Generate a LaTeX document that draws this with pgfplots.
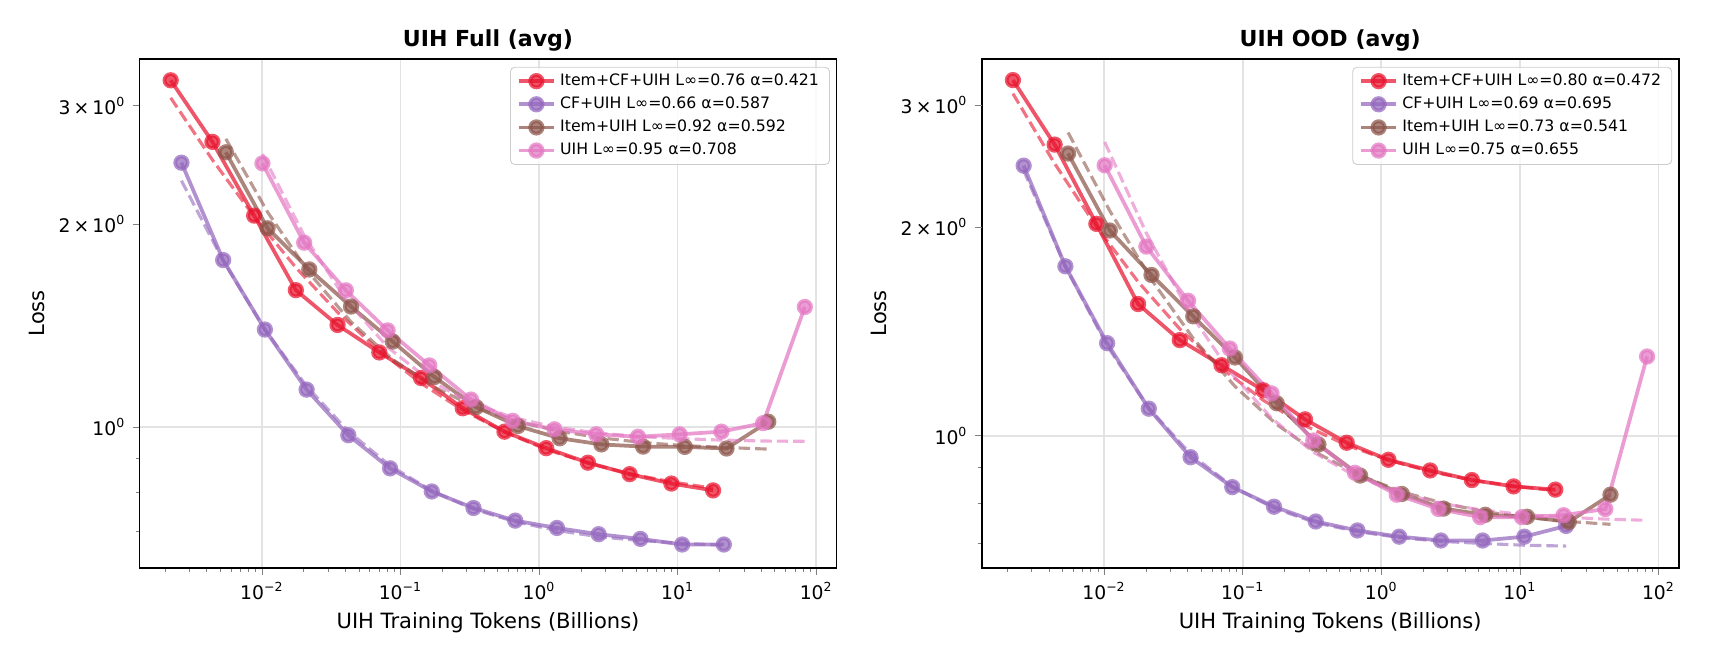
\documentclass[border=0pt]{standalone}
\usepackage{fontspec}
\setmainfont{DejaVu Sans}
\usepackage{pgfplots}
\pgfplotsset{compat=1.18}
\definecolor{cRed}{HTML}{E8142E}
\definecolor{cPur}{HTML}{9467BD}
\definecolor{cBro}{HTML}{8C564B}
\definecolor{cPin}{HTML}{E377C2}
\begin{document}
\begin{tikzpicture}
\useasboundingbox (0pt,0pt) rectangle (823.68pt,317.76pt);
% ---------------- Left: UIH Full ----------------
\begin{axis}[
    at={(66.96pt,45.26pt)}, anchor=south west,
    scale only axis, width=334.56pt, height=244.3pt,
    xmode=log, ymode=log,
    xmin=1.31e-3, xmax=140, ymin=0.619, ymax=3.52,
    title={UIH Full (avg)},
    xtick={0.01,0.1,1,10,100},
    xticklabels={10\textsuperscript{−2},10\textsuperscript{−1},10\textsuperscript{0},10\textsuperscript{1},10\textsuperscript{2}},
    minor xtick={0.002,0.003,0.004,0.005,0.006,0.007,0.008,0.009,0.02,0.03,0.04,0.05,0.06,0.07,0.08,0.09,0.2,0.3,0.4,0.5,0.6,0.7,0.8,0.9,2,3,4,5,6,7,8,9,20,30,40,50,60,70,80,90},
    ytick={1}, yticklabels={10\textsuperscript{0}},
    minor ytick={0.7,0.8,0.9},
    extra y ticks={2,3},
    extra y tick labels={2\,×\,10\textsuperscript{0},3\,×\,10\textsuperscript{0}},
    extra y tick style={grid=none},
    xmajorgrids, ymajorgrids,
    major grid style={draw=black!11, line width=0.8pt},
    tick align=outside, tick pos=left,
    major tick length=3.3pt, minor tick length=1.9pt,
    axis line style={line width=0.9pt},
    tick label style={font=\fontsize{9}{10}\selectfont},
    xlabel={UIH Training Tokens (Billions)}, ylabel={Loss},
    label style={font=\fontsize{10.1}{12}\selectfont},
    xlabel style={at={(axis description cs:0.5,-0.119)}, anchor=base},
    ylabel style={at={(axis description cs:-0.1475,0.5)}, anchor=center},
    title style={font=\bfseries\fontsize{10.6}{12}\selectfont, at={(axis description cs:0.5,1)}, anchor=base},
    legend style={at={(axis description cs:0.9905,0.984)}, anchor=north east,
      draw=black!20, fill=white, fill opacity=0.8, text opacity=1, rounded corners=2pt,
      font=\fontsize{7.55}{9}\selectfont, row sep=0pt, inner xsep=3pt, inner ysep=1.1pt},
    legend cell align=left,
  ]
\addplot[line width=1.8pt, opacity=0.72, mark=*, mark size=3pt, color=cRed] coordinates {(0.0022,3.27) (0.0044,2.65) (0.0088,2.06) (0.0176,1.597) (0.0352,1.418) (0.0704,1.291) (0.1408,1.183) (0.2816,1.067) (0.5632,0.985) (1.1264,0.931) (2.2528,0.886) (4.5056,0.852) (9.0112,0.825) (18.0224,0.806)};
\addlegendentry{Item+CF+UIH L∞=0.76 α=0.421}
\addplot[line width=1.5pt, opacity=0.6, dash pattern=on 5.5pt off 2.4pt, forget plot, no marks, color=cRed] coordinates {(0.0022,3.080) (0.0044,2.492) (0.0088,2.053) (0.0176,1.725) (0.0352,1.481) (0.0704,1.298) (0.1408,1.162) (0.2816,1.060) (0.5632,0.984) (1.1264,0.927) (2.2528,0.885) (4.5056,0.853) (9.0112,0.830) (18.0224,0.812)};
\addplot[line width=1.8pt, opacity=0.72, mark=*, mark size=3pt, color=cPur] coordinates {(0.00263,2.468) (0.00526,1.770) (0.01052,1.396) (0.02104,1.137) (0.04208,0.973) (0.08416,0.869) (0.16832,0.803) (0.33664,0.759) (0.67328,0.727) (1.34656,0.709) (2.69312,0.694) (5.38624,0.683) (10.7725,0.670) (21.545,0.670)};
\addlegendentry{CF+UIH L∞=0.66 α=0.587}
\addplot[line width=1.5pt, opacity=0.6, dash pattern=on 5.5pt off 2.4pt, forget plot, no marks, color=cPur] coordinates {(0.00263,2.321) (0.00526,1.766) (0.01052,1.396) (0.02104,1.150) (0.04208,0.986) (0.08416,0.877) (0.16832,0.805) (0.33664,0.756) (0.67328,0.724) (1.34656,0.703) (2.69312,0.688) (5.38624,0.679) (10.7725,0.673) (21.545,0.668)};
\addplot[line width=1.8pt, opacity=0.72, mark=*, mark size=3pt, color=cBro] coordinates {(0.0055,2.557) (0.011,1.973) (0.022,1.714) (0.044,1.510) (0.088,1.340) (0.176,1.187) (0.352,1.071) (0.704,1.004) (1.408,0.963) (2.816,0.943) (5.632,0.936) (11.264,0.935) (22.528,0.930) (45.056,1.019)};
\addlegendentry{Item+UIH L∞=0.92 α=0.592}
\addplot[line width=1.5pt, opacity=0.6, dash pattern=on 5.5pt off 2.4pt, forget plot, no marks, color=cBro] coordinates {(0.0055,2.677) (0.011,2.085) (0.022,1.693) (0.044,1.433) (0.088,1.260) (0.176,1.146) (0.352,1.070) (0.704,1.019) (1.408,0.986) (2.816,0.964) (5.632,0.949) (11.264,0.939) (22.528,0.933) (45.056,0.928)};
\addplot[line width=1.8pt, opacity=0.72, mark=*, mark size=3pt, color=cPin] coordinates {(0.0101,2.462) (0.0202,1.878) (0.0404,1.596) (0.0808,1.392) (0.1616,1.235) (0.3232,1.099) (0.6464,1.022) (1.2928,0.993) (2.5856,0.976) (5.1712,0.968) (10.3424,0.976) (20.6848,0.985) (41.3696,1.014) (82.739,1.508)};
\addlegendentry{UIH L∞=0.95 α=0.708}
\addplot[line width=1.5pt, opacity=0.6, dash pattern=on 5.5pt off 2.4pt, forget plot, no marks, color=cPin] coordinates {(0.0101,2.542) (0.0202,1.924) (0.0404,1.547) (0.0808,1.315) (0.1616,1.174) (0.3232,1.087) (0.6464,1.034) (1.2928,1.001) (2.5856,0.981) (5.1712,0.969) (10.3424,0.962) (20.6848,0.957) (41.3696,0.954) (82.739,0.953)};
\end{axis}
% ---------------- Right: UIH OOD ----------------
\begin{axis}[
    at={(471.22pt,45.26pt)}, anchor=south west,
    scale only axis, width=334.56pt, height=244.3pt,
    xmode=log, ymode=log,
    xmin=1.31e-3, xmax=140, ymin=0.645, ymax=3.50,
    title={UIH OOD (avg)},
    xtick={0.01,0.1,1,10,100},
    xticklabels={10\textsuperscript{−2},10\textsuperscript{−1},10\textsuperscript{0},10\textsuperscript{1},10\textsuperscript{2}},
    minor xtick={0.002,0.003,0.004,0.005,0.006,0.007,0.008,0.009,0.02,0.03,0.04,0.05,0.06,0.07,0.08,0.09,0.2,0.3,0.4,0.5,0.6,0.7,0.8,0.9,2,3,4,5,6,7,8,9,20,30,40,50,60,70,80,90},
    ytick={1}, yticklabels={10\textsuperscript{0}},
    minor ytick={0.7,0.8,0.9},
    extra y ticks={2,3},
    extra y tick labels={2\,×\,10\textsuperscript{0},3\,×\,10\textsuperscript{0}},
    extra y tick style={grid=none},
    xmajorgrids, ymajorgrids,
    major grid style={draw=black!11, line width=0.8pt},
    tick align=outside, tick pos=left,
    major tick length=3.3pt, minor tick length=1.9pt,
    axis line style={line width=0.9pt},
    tick label style={font=\fontsize{9}{10}\selectfont},
    xlabel={UIH Training Tokens (Billions)}, ylabel={Loss},
    label style={font=\fontsize{10.1}{12}\selectfont},
    xlabel style={at={(axis description cs:0.5,-0.119)}, anchor=base},
    ylabel style={at={(axis description cs:-0.1475,0.5)}, anchor=center},
    title style={font=\bfseries\fontsize{10.6}{12}\selectfont, at={(axis description cs:0.5,1)}, anchor=base},
    legend style={at={(axis description cs:0.9905,0.984)}, anchor=north east,
      draw=black!20, fill=white, fill opacity=0.8, text opacity=1, rounded corners=2pt,
      font=\fontsize{7.55}{9}\selectfont, row sep=0pt, inner xsep=3pt, inner ysep=1.1pt},
    legend cell align=left,
  ]
\addplot[line width=1.8pt, opacity=0.72, mark=*, mark size=3pt, color=cRed] coordinates {(0.0022,3.26) (0.0044,2.631) (0.0088,2.022) (0.0176,1.549) (0.0352,1.374) (0.0704,1.264) (0.1408,1.163) (0.2816,1.056) (0.5632,0.977) (1.1264,0.923) (2.2528,0.891) (4.5056,0.863) (9.0112,0.845) (18.0224,0.836)};
\addlegendentry{Item+CF+UIH L∞=0.80 α=0.472}
\addplot[line width=1.5pt, opacity=0.6, dash pattern=on 5.5pt off 2.4pt, forget plot, no marks, color=cRed] coordinates {(0.0022,3.117) (0.0044,2.470) (0.0088,2.004) (0.0176,1.668) (0.0352,1.426) (0.0704,1.251) (0.1408,1.125) (0.2816,1.034) (0.5632,0.969) (1.1264,0.922) (2.2528,0.888) (4.5056,0.863) (9.0112,0.846) (18.0224,0.833)};
\addplot[line width=1.8pt, opacity=0.72, mark=*, mark size=3pt, color=cPur] coordinates {(0.00263,2.453) (0.00526,1.756) (0.01052,1.360) (0.02104,1.094) (0.04208,0.931) (0.08416,0.843) (0.16832,0.790) (0.33664,0.752) (0.67328,0.730) (1.34656,0.715) (2.69312,0.706) (5.38624,0.706) (10.7725,0.715) (21.545,0.741)};
\addlegendentry{CF+UIH L∞=0.69 α=0.695}
\addplot[line width=1.5pt, opacity=0.6, dash pattern=on 5.5pt off 2.4pt, forget plot, no marks, color=cPur] coordinates {(0.00263,2.415) (0.00526,1.755) (0.01052,1.348) (0.02104,1.096) (0.04208,0.941) (0.08416,0.845) (0.16832,0.786) (0.33664,0.749) (0.67328,0.727) (1.34656,0.713) (2.69312,0.704) (5.38624,0.699) (10.7725,0.695) (21.545,0.693)};
\addplot[line width=1.8pt, opacity=0.72, mark=*, mark size=3pt, color=cBro] coordinates {(0.0055,2.554) (0.011,1.978) (0.022,1.706) (0.044,1.487) (0.088,1.297) (0.176,1.114) (0.352,0.971) (0.704,0.876) (1.408,0.824) (2.816,0.785) (5.632,0.769) (11.264,0.764) (22.528,0.751) (45.056,0.822)};
\addlegendentry{Item+UIH L∞=0.73 α=0.541}
\addplot[line width=1.5pt, opacity=0.6, dash pattern=on 5.5pt off 2.4pt, forget plot, no marks, color=cBro] coordinates {(0.0055,2.739) (0.011,2.111) (0.022,1.679) (0.044,1.382) (0.088,1.178) (0.176,1.038) (0.352,0.942) (0.704,0.876) (1.408,0.830) (2.816,0.799) (5.632,0.777) (11.264,0.762) (22.528,0.752) (45.056,0.745)};
\addplot[line width=1.8pt, opacity=0.72, mark=*, mark size=3pt, color=cPin] coordinates {(0.0101,2.456) (0.0202,1.875) (0.0404,1.566) (0.0808,1.336) (0.1616,1.151) (0.3232,0.984) (0.6464,0.884) (1.2928,0.822) (2.5856,0.784) (5.1712,0.763) (10.3424,0.763) (20.6848,0.768) (41.3696,0.784) (82.739,1.301)};
\addlegendentry{UIH L∞=0.75 α=0.655}
\addplot[line width=1.5pt, opacity=0.6, dash pattern=on 5.5pt off 2.4pt, forget plot, no marks, color=cPin] coordinates {(0.0101,2.654) (0.0202,1.960) (0.0404,1.518) (0.0808,1.238) (0.1616,1.060) (0.3232,0.947) (0.6464,0.875) (1.2928,0.830) (2.5856,0.800) (5.1712,0.782) (10.3424,0.770) (20.6848,0.763) (41.3696,0.758) (82.739,0.755)};
\end{axis}
\end{tikzpicture}
\end{document}
